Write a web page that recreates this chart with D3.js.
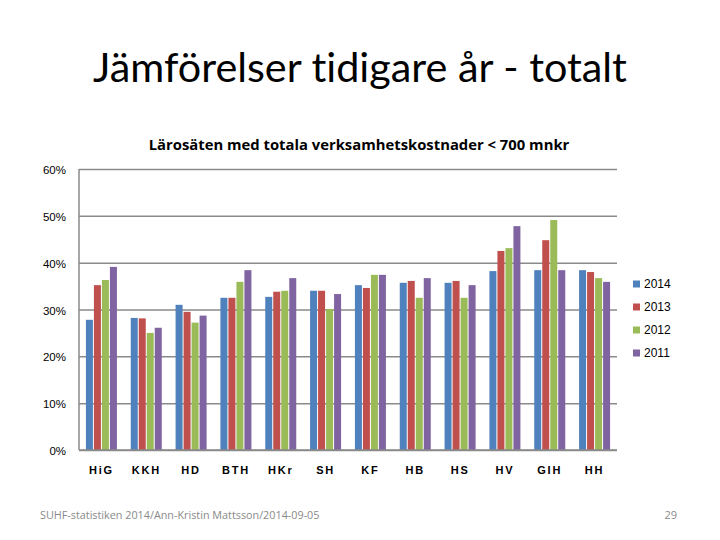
<!DOCTYPE html>
<html><head><meta charset="utf-8">
<script src="https://cdn.jsdelivr.net/npm/d3@7"></script>
<style>body{margin:0;background:#fff}svg{display:block}text{font-variant-ligatures:none;font-feature-settings:"liga" 0}</style>
</head><body>
<svg id="c" width="720" height="540"></svg>
<script>
const categories = ["HiG","KKH","HD","BTH","HKr","SH","KF","HB","HS","HV","GIH","HH"];
const seriesNames = ["2014","2013","2012","2011"];
const s2014 = [27.8,28.2,31.0,32.5,32.7,34.0,35.2,35.7,35.7,38.2,38.4,38.4];
const s2013 = [35.2,28.1,29.5,32.5,33.8,34.0,34.6,36.1,36.1,42.5,44.8,38.0];
const s2012 = [36.3,25.0,27.2,35.9,34.0,30.1,37.4,32.5,32.5,43.1,49.1,36.7];
const s2011 = [39.1,26.1,28.7,38.4,36.7,33.3,37.4,36.7,35.2,47.8,38.4,35.9];
const yTicks = [0,10,20,30,40,50,60];
const colors = ["#4F81BD","#C0504D","#9BBB59","#8064A2"];
const series = [s2014,s2013,s2012,s2011];

const svg = d3.select("#c");
const L=79, R=617, T=169, B=450;
const x = d3.scaleBand().domain(categories).range([L,R]).paddingInner(0.286).paddingOuter(0.143);
const x1 = d3.scaleBand().domain(seriesNames).range([0,x.bandwidth()]);
const y = d3.scaleLinear().domain([0,60]).range([B,T]);

// main title
const t = svg.append("text").attr("x",360).attr("y",82).attr("text-anchor","middle")
  .attr("font-family","Lato, 'Open Sans', sans-serif").attr("font-size",40).attr("fill","#000")
  .text("Jämförelser tidigare år - totalt");
const tw = t.node().getComputedTextLength();
t.attr("font-size", 40*534/tw);

const st = svg.append("text").attr("x",359).attr("y",150).attr("text-anchor","middle")
  .attr("font-family","'Open Sans', sans-serif").attr("font-weight","bold").attr("font-size",14)
  .text("Lärosäten med totala verksamhetskostnader < 700 mnkr");
st.attr("font-size", 14*421/st.node().getComputedTextLength());

// gridlines
const yAxis = d3.axisLeft(y).tickValues(yTicks).tickFormat(d=>d+"%").tickSize(L-R).tickPadding(13);
const ga = svg.append("g").attr("transform",`translate(${L},0)`).call(yAxis);
ga.select(".domain").remove();
ga.selectAll(".tick line").attr("stroke","#8a8a8a").attr("stroke-width",1.5);
ga.selectAll(".tick text").attr("font-family","'Liberation Sans', sans-serif").attr("font-size",11.5).attr("fill","#000").attr("dy","0.4em");
svg.append("line").attr("x1",L).attr("x2",L).attr("y1",T).attr("y2",B).attr("stroke","#8a8a8a").attr("stroke-width",1.5);

// bars
const groups = svg.append("g").selectAll("g").data(categories).join("g")
  .attr("transform",d=>`translate(${x(d)},0)`);
groups.selectAll("rect").data((c,i)=>series.map((s,k)=>({k,v:s[i]}))).join("rect")
  .attr("x",d=>x1(seriesNames[d.k])+0.5).attr("width",x1.bandwidth()-1)
  .attr("y",d=>y(d.v)).attr("height",d=>B-y(d.v)).attr("fill",d=>colors[d.k]);

// baseline on top
svg.append("line").attr("x1",L).attr("x2",R).attr("y1",B).attr("y2",B).attr("stroke","#8a8a8a").attr("stroke-width",1.5);

// category labels
const xAxis = d3.axisBottom(x).tickSize(0).tickPadding(16);
const gx = svg.append("g").attr("transform",`translate(0,${B})`).call(xAxis);
gx.select(".domain").remove();
gx.selectAll(".tick text").attr("font-family","'Liberation Sans', sans-serif").attr("font-weight","bold")
  .attr("font-size",11).attr("letter-spacing","1.8px").attr("fill","#000");

// legend
const lg = svg.append("g").selectAll("g").data(seriesNames).join("g")
  .attr("transform",(d,i)=>`translate(633,${284+i*23})`);
lg.append("rect").attr("x",0).attr("y",-3.5).attr("width",7).attr("height",7).attr("fill",(d,i)=>colors[i]);
lg.append("text").attr("x",11).attr("y",0).attr("dy","0.35em").attr("font-family","'Liberation Sans', sans-serif")
  .attr("font-size",12).text(d=>d);

// footer
svg.append("text").attr("x",40).attr("y",519).attr("font-family","'Open Sans', sans-serif").attr("font-size",10.8)
  .attr("fill","#8a8a8a").text("SUHF-statistiken 2014/Ann-Kristin Mattsson/2014-09-05");
svg.append("text").attr("x",677).attr("y",519).attr("text-anchor","end").attr("font-family","'Open Sans', sans-serif").attr("font-size",11)
  .attr("fill","#8a8a8a").text("29");
</script>
</body></html>
